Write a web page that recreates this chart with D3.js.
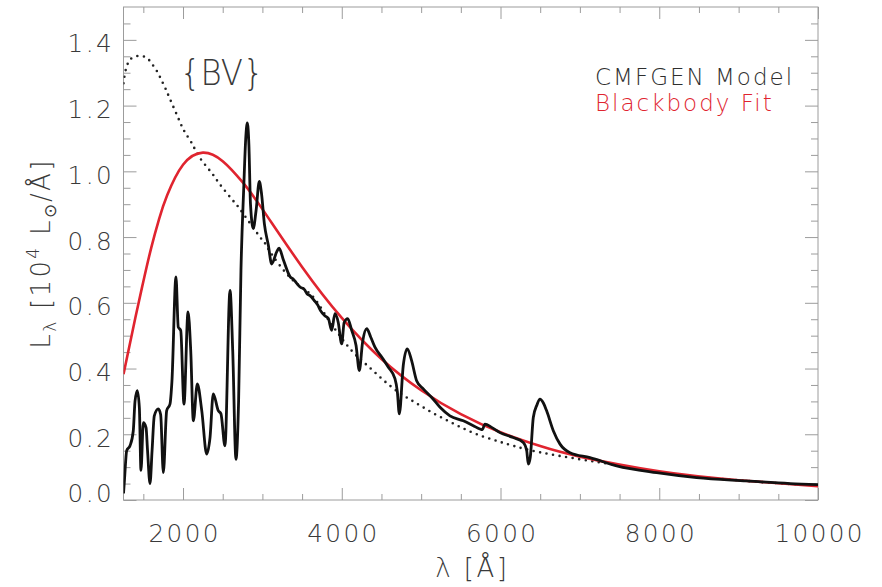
<!DOCTYPE html>
<html>
<head>
<meta charset="utf-8">
<script src="https://cdn.jsdelivr.net/npm/d3@7"></script>
<style>
  body { margin: 0; background: #fff; }
  svg { display: block; }
</style>
</head>
<body>
<svg id="chart" width="882" height="587"></svg>
<script>
// CMFGEN model spectrum: wavelength (Å) and L_lambda (10^4 Lsun/Å)
const modelWave = [1250, 1262, 1290, 1332, 1373, 1395, 1424, 1450, 1470, 1500, 1534, 1553, 1584, 1610, 1638, 1689, 1718, 1752, 1794, 1836, 1860, 1911, 1940, 1971, 2012, 2063, 2097, 2130, 2180, 2236, 2298, 2340, 2381, 2444, 2478, 2528, 2592, 2626, 2667, 2700, 2730, 2765, 2790, 2810, 2830, 2850, 2885, 2920, 2961, 2990, 3025, 3075, 3117, 3180, 3210, 3265, 3350, 3390, 3430, 3475, 3530, 3560, 3600, 3660, 3700, 3730, 3790, 3830, 3873, 3914, 3955, 3999, 4030, 4074, 4125, 4180, 4221, 4262, 4314, 4364, 4418, 4503, 4587, 4670, 4700, 4725, 4775, 4825, 4880, 4943, 5027, 5133, 5238, 5363, 5531, 5657, 5741, 5770, 5804, 5888, 5993, 6160, 6287, 6330, 6350, 6375, 6413, 6460, 6497, 6540, 6580, 6665, 6750, 6875, 7127, 7463, 7967, 8471, 9101, 9647, 10000];
const modelLum  = [0.02, 0.06, 0.15, 0.165, 0.21, 0.30, 0.333, 0.28, 0.09, 0.235, 0.22, 0.15, 0.05, 0.15, 0.256, 0.277, 0.26, 0.083, 0.272, 0.292, 0.36, 0.679, 0.526, 0.516, 0.292, 0.572, 0.455, 0.241, 0.353, 0.272, 0.14, 0.19, 0.323, 0.272, 0.262, 0.165, 0.638, 0.455, 0.124, 0.30, 0.70, 0.95, 1.10, 1.147, 1.08, 0.90, 0.826, 0.88, 0.969, 0.93, 0.84, 0.775, 0.718, 0.755, 0.766, 0.73, 0.679, 0.672, 0.660, 0.648, 0.640, 0.628, 0.622, 0.605, 0.592, 0.577, 0.560, 0.553, 0.516, 0.567, 0.541, 0.475, 0.540, 0.552, 0.516, 0.470, 0.394, 0.480, 0.521, 0.496, 0.465, 0.435, 0.404, 0.369, 0.330, 0.262, 0.410, 0.460, 0.424, 0.363, 0.338, 0.312, 0.282, 0.256, 0.241, 0.226, 0.216, 0.214, 0.231, 0.221, 0.205, 0.190, 0.175, 0.150, 0.109, 0.130, 0.251, 0.290, 0.307, 0.295, 0.272, 0.211, 0.170, 0.144, 0.129, 0.104, 0.083, 0.068, 0.058, 0.050, 0.047];

// Continuum level of the model (dotted)
const contWave = [1250, 1270, 1306, 1370, 1475, 1559, 1620, 1676, 1727, 1777, 1832, 1895, 1958, 2021, 2105, 2189, 2294, 2378, 2466, 2633, 2717, 2970, 3033, 3117, 3306, 3480, 3650, 3800, 3900, 4104, 4314, 4523, 4733, 4943, 5153, 5363, 5573, 5783, 5993, 6203, 6500, 7000, 7500, 8000, 8500, 9000, 9500, 10000];
const contLum  = [1.268, 1.300, 1.329, 1.347, 1.351, 1.342, 1.323, 1.303, 1.278, 1.253, 1.222, 1.187, 1.152, 1.120, 1.088, 1.050, 1.015, 0.990, 0.960, 0.910, 0.885, 0.800, 0.781, 0.748, 0.688, 0.650, 0.615, 0.560, 0.525, 0.460, 0.411, 0.365, 0.325, 0.294, 0.264, 0.238, 0.213, 0.193, 0.177, 0.162, 0.145, 0.124, 0.105, 0.085, 0.070, 0.060, 0.051, 0.045];

// Blackbody fit
const bbWave = [1250, 1400, 1500, 1600, 1700, 1800, 2000, 2250, 2500, 2750, 3000, 3500, 4000, 4500, 5000, 5500, 6000, 6500, 7000, 8000, 9000, 10000];
const bbLum  = [0.383, 0.555, 0.665, 0.768, 0.856, 0.927, 1.020, 1.057, 1.031, 0.967, 0.885, 0.709, 0.554, 0.429, 0.334, 0.261, 0.206, 0.164, 0.132, 0.087, 0.060, 0.042];

const xTickValues = [2000, 4000, 6000, 8000, 10000];
const yTickValues = [0.0, 0.2, 0.4, 0.6, 0.8, 1.0, 1.2, 1.4];
const legendLabels = ["CMFGEN Model", "Blackbody Fit"];
const annotationText = "{BV}";

const svg = d3.select("#chart");
const box = { left: 123.5, right: 818, top: 7, bottom: 500 };
const x = d3.scaleLinear().domain([1250, 10000]).range([box.left, box.right]);
const y = d3.scaleLinear().domain([0, 1.5]).range([box.bottom, box.top]);

const frameColor = "#9c9c9c";
const textColor = "#3a3a3a";
const red = "#e0242f";
const font = "'DejaVu Sans', 'Liberation Sans', Arial, sans-serif";

svg.append("defs").append("clipPath").attr("id", "plot")
  .append("rect").attr("x", box.left).attr("y", box.top)
  .attr("width", box.right - box.left).attr("height", box.bottom - box.top);

// frame
svg.append("rect")
  .attr("x", box.left).attr("y", box.top)
  .attr("width", box.right - box.left).attr("height", box.bottom - box.top)
  .attr("fill", "none").attr("stroke", frameColor).attr("stroke-width", 1);

const xMinor = d3.range(1500, 10001, 500).filter(v => !xTickValues.includes(v));
const yMinor = d3.range(0.05, 1.5, 0.05).filter(v => !yTickValues.some(t => Math.abs(t - v) < 1e-6));

function tickGroup(axis, tx, ty) {
  const g = svg.append("g").attr("transform", `translate(${tx},${ty})`).call(axis);
  g.select(".domain").remove();
  g.selectAll(".tick line").attr("stroke", frameColor).attr("stroke-width", 1);
  return g;
}

// minor ticks on all four sides
tickGroup(d3.axisBottom(x).tickValues(xMinor).tickSize(-6).tickFormat(""), 0, box.bottom);
tickGroup(d3.axisTop(x).tickValues(xMinor).tickSize(-6).tickFormat(""), 0, box.top);
tickGroup(d3.axisLeft(y).tickValues(yMinor).tickSize(-7).tickFormat(""), box.left, 0);
tickGroup(d3.axisRight(y).tickValues(yMinor).tickSize(-7).tickFormat(""), box.right, 0);

// major ticks; labels on bottom and left
const gx = tickGroup(d3.axisBottom(x).tickValues(xTickValues).tickSize(-12).tickFormat(d3.format("d")), 0, box.bottom);
tickGroup(d3.axisTop(x).tickValues(xTickValues).tickSize(-12).tickFormat(""), 0, box.top);
const gy = tickGroup(d3.axisLeft(y).tickValues(yTickValues).tickSize(-13).tickFormat(d3.format(".1f")), box.left, 0);
tickGroup(d3.axisRight(y).tickValues(yTickValues).tickSize(-13).tickFormat(""), box.right, 0);

gx.selectAll(".tick text")
  .attr("y", 41.5).attr("dy", null).attr("x", 1.2)
  .attr("font-family", font).attr("font-weight", 200)
  .attr("font-size", 24.7).attr("letter-spacing", 2.4)
  .attr("fill", textColor);
gy.selectAll(".tick text")
  .attr("x", -9.5).attr("dy", null)
  .attr("y", d => d === 0 ? 1.7 : 12)
  .attr("font-family", font).attr("font-weight", 200)
  .attr("font-size", 24.7).attr("letter-spacing", 2.4)
  .attr("fill", textColor);

// curves
const plot = svg.append("g").attr("clip-path", "url(#plot)");

const contLine = d3.line().x(d => x(d[0])).y(d => y(d[1])).curve(d3.curveNatural);
plot.append("path")
  .datum(d3.zip(contWave, contLum))
  .attr("d", contLine)
  .attr("fill", "none").attr("stroke", "#222")
  .attr("stroke-width", 2.6).attr("stroke-linecap", "round")
  .attr("stroke-dasharray", "0 6.6");

const bbLine = d3.line().x(d => x(d[0])).y(d => y(d[1])).curve(d3.curveNatural);
plot.append("path")
  .datum(d3.zip(bbWave, bbLum))
  .attr("d", bbLine)
  .attr("fill", "none").attr("stroke", red).attr("stroke-width", 2.6);

const modelLine = d3.line().x(d => x(d[0])).y(d => y(d[1])).curve(d3.curveMonotoneX);
plot.append("path")
  .datum(d3.zip(modelWave, modelLum))
  .attr("d", modelLine)
  .attr("fill", "none").attr("stroke", "#111")
  .attr("stroke-width", 2.8).attr("stroke-linejoin", "round");

// annotation (slightly condensed)
svg.append("text")
  .attr("transform", "translate(180,85) scale(0.9,1)")
  .attr("font-family", font).attr("font-weight", 200).attr("font-size", 36)
  .attr("fill", textColor)
  .text(annotationText);

// legend
const legendColors = ["#2e2e2e", red];
svg.selectAll(".legend")
  .data(legendLabels)
  .join("text")
  .attr("class", "legend")
  .attr("x", 595).attr("y", (d, i) => 84.5 + i * 26)
  .attr("font-family", font).attr("font-weight", 200)
  .attr("font-size", 23).attr("letter-spacing", 2)
  .attr("fill", (d, i) => legendColors[i])
  .text(d => d);

// x-axis title
svg.append("text")
  .attr("x", (box.left + box.right) / 2 + 1.5).attr("y", 577)
  .attr("text-anchor", "middle")
  .attr("font-family", font).attr("font-weight", 200)
  .attr("font-size", 26).attr("letter-spacing", 2.5)
  .attr("fill", textColor)
  .text("λ [Å]");

// y-axis title
const yt = svg.append("text")
  .attr("transform", `translate(50,${(box.top + box.bottom) / 2}) rotate(-90)`)
  .attr("text-anchor", "middle")
  .attr("font-family", font).attr("font-weight", 200)
  .attr("font-size", 26).attr("letter-spacing", 2.3)
  .attr("fill", textColor);
yt.append("tspan").text("L");
yt.append("tspan").attr("dy", 6).attr("font-size", 17).text("λ");
yt.append("tspan").attr("dy", -6).text(" [10");
yt.append("tspan").attr("dy", -11).attr("font-size", 17).text("4");
yt.append("tspan").attr("dy", 11).text(" L");
yt.append("tspan").attr("dy", 6).attr("font-size", 17).text("⊙");
yt.append("tspan").attr("dy", -6).text("/Å]");
</script>
</body>
</html>
